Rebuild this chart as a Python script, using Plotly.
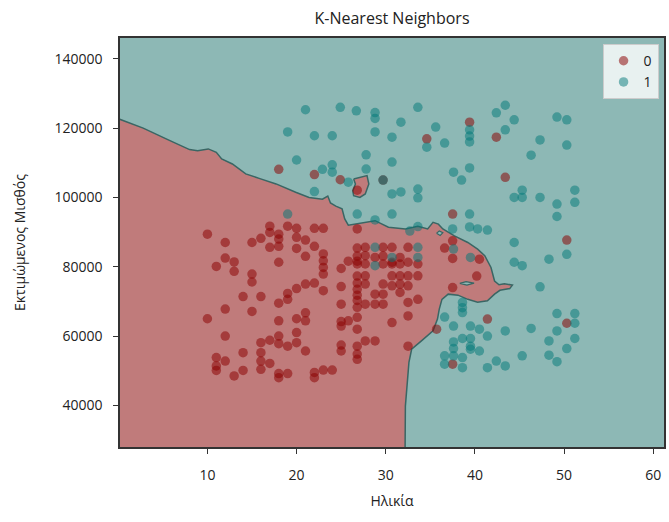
import plotly.graph_objects as go

# ---------------- data ----------------
red_age = [10,12,15,16,17,17,18,18,17,18,19,20,20,21,20,22,23,22,21,23,23,23,23,18,12,13,11,13,15,15,
           25,25,22,21,20,19,19,18,23,14,16,12,15,10,18,20,21,21,25,25,25,12,20,18,17,16,18,19,20,21,
           25,25,14,16,16,17,16,11,12,11,11,14,13,18,18,19,22,22,23,24,
           25.8,25.8,
           26.8,26.8,26.8,26.8,26.8,26.8,26.8,26.8,26.8,26.8,26.8,26.8,26.8,26.8,26.8,
           27.7,27.7,27.7,27.7,27.7,27.7,
           28.8,28.8,28.8,28.8,
           29.7,29.7,29.7,29.7,29.7,
           30.7,30.7,30.7,30.7,30.7,
           31.6,31.6,31.6,31.6,
           32.5,32.5,32.5,32.5,32.5,32.5,
           33.6,33.6,33.6,
           36.6,37.5,37.5,37.5,37.5,37.5,35.7,39.4,40.2,40.5,41.4,42.4,43.4,50.3,50.3,34.6,
           18,22,24.9,26.8,29.7,
           26.8,27.7,29.7,30.7,31.6,32.5]
red_salary = [89400,87000,87000,88200,91700,89900,89400,88000,85600,85900,91700,91100,88500,87700,85300,91100,91100,85900,83000,83700,
              81700,79800,77900,81300,82500,81400,80100,78700,77900,75600,
              79500,74300,75300,75000,73700,72300,70600,69500,73100,71400,71400,67800,67100,65000,64400,65000,66700,64400,69200,64200,
              62900,60000,61000,60000,58800,58100,57800,57100,58100,55700,
              57400,55700,55200,55200,52800,52100,50400,53800,52800,51400,50100,50100,48500,49200,48000,49200,49500,48000,50200,50200,
              81600,64400,
              90900,85400,83100,81600,77300,75300,73500,71800,70300,68300,65400,62000,57100,54800,53300,
              85600,83200,80800,75000,69200,58600,
              82700,72100,69200,58600,
              85600,80800,75000,72100,69200,
              85600,80800,77400,74500,63900,
              82700,80800,77400,72600,
              85600,81300,74500,69700,65800,57100,
              80800,77400,70600,
              85400,95200,87500,82400,74000,51900,62000,121700,77300,82200,64900,117400,105800,87700,63700,116900,
              108100,106600,105100,102100,105000,
              80800,77400,83100,81300,75000,77400]

teal_age = [21.0,24.9,26.7,28.8,28.8,33.6,19.0,22.0,24.0,28.8,30.7,31.7,35.6,36.6,34.6,20.0,22.9,24.0,24.0,27.8,
            27.8,30.7,25.8,29.7,22.0,30.7,31.7,33.6,33.6,26.8,28.8,30.7,19.0,32.7,33.6,37.5,39.4,40.3,41.4,39.4,
            37.6,38.5,39.4,39.4,39.4,39.4,42.4,43.4,44.4,43.4,47.3,46.3,49.2,50.3,50.3,44.4,45.3,45.3,47.3,49.2,
            49.2,51.2,51.2,
            44.4,44.4,45.3,48.3,50.3,47.3,39.5,37.6,
            28.8,28.8,30.7,33.6,33.6,
            38.6,38.6,38.6,36.6,37.6,39.5,40.5,41.4,43.4,46.3,49.2,51.2,51.2,49.2,51.2,48.3,50.3,48.3,49.2,45.3,
            42.4,43.4,41.4,40.5,37.6,37.6,38.6,39.5,39.5,39.5,36.6,36.6,37.6,38.6,38.6]
teal_salary = [125300,126000,125000,124500,122800,126000,118900,117800,117800,118900,117400,121700,120300,115700,114500,110800,108100,109400,107300,112300,
               108200,110200,104400,105000,101700,101000,101600,102400,99900,95200,93500,95200,95200,90300,91600,90900,91500,90900,90600,95200,
               107300,105000,108500,119500,117700,116000,124400,126600,122400,119500,116600,112200,123200,122400,115100,100000,102100,100000,100000,98100,
               94500,102100,98600,
               87000,81300,80300,82200,83600,74200,82700,85100,
               85600,80300,82700,85600,82700,
               69700,68200,66800,65500,62900,62900,62000,60000,61500,62200,66500,66500,63700,61500,59300,58600,56400,54500,52600,54300,
               52800,51400,50900,55700,58300,56400,59300,59300,57100,56200,54300,51900,54300,53800,50900]

# decision-region outline of class 0 (age, salary)
region0_age = [-1, 2.8, 5.8, 8.0, 8.9, 10.1, 11.0, 11.6, 12.8, 14.3, 15.8, 17.7, 19.9, 21.4, 22.9, 23.5, 23.8, 24.4,
               25.1, 25.4, 25.8, 26.6, 27.7, 28.8, 30.3, 32.2, 33.6, 34.7, 35.3, 35.9, 36.4, 37.7, 39.2, 40.3, 41.1,
               41.8, 42.2, 42.7, 43.3, 44.2, 43.9, 42.8, 42.2, 41.4, 40.3, 39.2, 38.1, 37.0, 36.3, 36.0, 35.8, 35.3,
               34.0, 32.9, 32.6, 32.4, 32.2, 32.15, -1]
region0_salary = [123700, 120000, 116400, 113800, 113500, 114000, 113000, 111100, 109650, 106800, 105500, 103900, 101500,
                  100000, 99500, 100400, 98400, 97500, 96700, 93800, 92000, 92300, 92800, 93300, 91400, 90900, 91700,
                  90900, 92800, 92300, 90900, 88900, 87000, 85100, 83200, 79800, 75900, 74800, 75100, 74700, 73700,
                  73200, 72100, 70200, 69800, 70600, 71800, 72100, 70600, 67800, 64900, 61500, 58600, 56200, 52400,
                  46600, 39800, 20000, 20000]
island0_age = [26.4, 27.9, 28.1, 27.7, 27.1, 26.4, 26.3, 26.6, 26.4]
island0_salary = [105300, 106300, 103900, 101000, 100000, 100500, 101900, 103900, 105300]
island1a_age = [35.7, 36.0, 36.4, 36.1, 35.7]
island1a_salary = [89700, 90300, 89800, 89000, 89700]
island1b_age = [38.3, 39.0, 39.9, 39.1, 38.3]
island1b_salary = [75200, 75700, 75300, 74700, 75200]

x_ticks = [10, 20, 30, 40, 50, 60]
y_ticks = [40000, 60000, 80000, 100000, 120000, 140000]

# ---------------- styling ----------------
RED_BG = "#c07b7b"
TEAL_BG = "#8db8b5"
EDGE = "#3a6664"
FONT = "Open Sans"
TXT = "#222222"

fig = go.Figure()
fig.add_trace(go.Scatter(x=region0_age, y=region0_salary, mode="lines", fill="toself",
                         fillcolor=RED_BG, line=dict(color=EDGE, width=1.5),
                         hoverinfo="skip", showlegend=False))
fig.add_trace(go.Scatter(x=island0_age, y=island0_salary, mode="lines", fill="toself",
                         fillcolor=RED_BG, line=dict(color=EDGE, width=1.5),
                         hoverinfo="skip", showlegend=False))
for ax_, ay_ in [(island1a_age, island1a_salary), (island1b_age, island1b_salary)]:
    fig.add_trace(go.Scatter(x=ax_, y=ay_, mode="lines", fill="toself",
                             fillcolor=TEAL_BG, line=dict(color=EDGE, width=1.2),
                             hoverinfo="skip", showlegend=False))

fig.add_trace(go.Scatter(x=red_age, y=red_salary, mode="markers", name="0",
                         marker=dict(color="rgba(139,0,0,0.52)", size=9.5, line=dict(width=0))))
fig.add_trace(go.Scatter(x=teal_age, y=teal_salary, mode="markers", name="1",
                         marker=dict(color="rgba(0,120,120,0.5)", size=9.5, line=dict(width=0))))

axis_common = dict(showgrid=False, zeroline=False, showline=True, linecolor="#333333", linewidth=1.5,
                   mirror=True, ticks="outside", ticklen=5, tickcolor="#333333",
                   tickfont=dict(family=FONT, size=14, color=TXT))

fig.update_layout(
    width=669, height=522,
    margin=dict(l=120, r=3, t=38, b=75),
    paper_bgcolor="white", plot_bgcolor=TEAL_BG,
    title=dict(text="K-Nearest Neighbors", x=0.5, xanchor="center", xref="paper",
               y=0.965, yanchor="middle", font=dict(family=FONT, size=16, color=TXT)),
    font=dict(family=FONT, color=TXT),
    legend=dict(x=0.99, y=0.985, xanchor="right", yanchor="top",
                bgcolor="rgba(255,255,255,0.8)", bordercolor="#cccccc", borderwidth=1,
                font=dict(family=FONT, size=14, color=TXT)),
    xaxis=dict(range=[0.2, 61.2], tickvals=x_ticks, ticktext=[str(v) for v in x_ticks],
               ticklabelstandoff=9,
               title=dict(text="Ηλικία", standoff=14, font=dict(family=FONT, size=14, color=TXT)),
               **axis_common),
    yaxis=dict(range=[28000, 146000], tickvals=y_ticks, ticktext=[str(v) for v in y_ticks],
               ticklabelstandoff=8,
               title=dict(text="Εκτιμώμενος Μισθός", standoff=26, font=dict(family=FONT, size=14, color=TXT)),
               **axis_common),
)

fig.write_html("out.html")
